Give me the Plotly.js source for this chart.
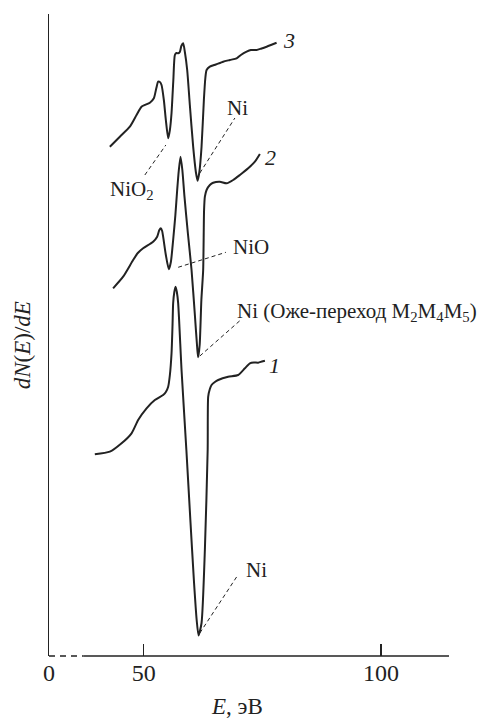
<!DOCTYPE html>
<html>
<head>
<meta charset="utf-8">
<script src="https://cdn.plot.ly/plotly-3.0.1.min.js"></script>
<style>html,body{margin:0;padding:0;background:#fff;}#chart{width:491px;height:719px;}</style>
</head>
<body>
<div id="chart"></div>
<script>
// Energy E (eV) and dN(E)/dE (arbitrary units, curves offset vertically)
const curve1E = [39.66,42.83,45.30,47.41,48.80,50.57,52.32,54.07,54.64,55.13,55.49,55.84,56.05,56.18,56.43,56.69,56.96,57.24,57.95,58.97,59.81,60.55,61.14,61.54,62.17,62.87,63.46,63.57,63.92,64.28,64.98,65.68,67.78,69.89,71.31,72.36,73.21,74.11,74.89,75.53];
const curve1Y = [20.17,20.43,21.27,22.27,23.6,24.77,25.6,26.1,26.4,26.93,28.1,30.27,33.1,35.27,36.4,36.93,36.4,35.27,28.6,20.6,13.6,7.6,3.6,2.05,3.3,10.6,20.6,25.93,26.7,27.1,27.4,27.6,27.93,28.1,28.77,29.27,29.35,29.33,29.45,29.53];

const curve2E = [43.52,45.63,47.74,48.73,49.85,51.96,52.81,53.27,53.59,53.86,54.07,54.64,55.27,55.70,56.18,56.65,57.03,57.38,57.74,58.12,58.57,59.28,60.06,60.76,61.24,61.45,61.77,62.13,62.51,62.70,62.87,63.23,63.92,64.62,66.03,67.45,68.84,70.25,72.00,73.42,74.47];
const curve2Y = [36.77,37.93,39.6,40.3,40.77,41.43,41.93,42.6,42.77,42.5,41.93,40.1,38.67,39.4,41.6,44.1,46.6,48.6,49.93,48.6,45.93,42.3,38.6,34.1,30.9,29.87,31.1,35.6,38.6,44.6,45.93,46.6,47.1,47.33,47.43,47.27,47.6,48.1,48.77,49.43,50.2];

const curve3E = [42.83,44.94,47.05,48.46,49.51,51.27,52.11,52.64,53.02,53.38,53.73,54.22,54.64,55.13,55.49,55.84,56.22,56.54,56.86,57.24,57.59,57.91,58.29,58.65,59.14,59.70,60.40,60.97,61.33,61.71,62.17,62.66,62.97,63.23,63.92,65.19,66.73,68.14,69.56,70.46,71.67,72.57,73.78,74.68,75.89,76.79,77.99];
const curve3Y = [50.93,51.93,52.93,54.10,54.93,55.33,55.77,56.8,57.43,57.4,57.1,55.6,53.6,51.77,52.6,54.3,57.6,60.1,60.3,60.27,60.4,61.0,61.27,60.4,58.6,55.1,50.93,48.4,47.53,48.4,50.93,55.6,57.8,58.6,58.93,59.15,59.43,59.6,59.77,60.1,60.43,60.6,60.6,60.73,60.93,61.1,61.33];

// x tick labels (axis broken between 0 and the data range)
const tickPos = [30, 50, 100];
const tickText = ["0", "50", "100"];

// Curve numbers
const curveLabels = ["<i>1</i>", "<i>2</i>", "<i>3</i>"];
const curveLabelE = [77.64, 76.69, 80.59];
const curveLabelY = [29.1, 49.87, 61.6];

// Peak labels and their dashed leaders
const peakText = ["NiO<sub>2</sub>", "Ni", "NiO", "Ni (Оже-переход M<sub>2</sub>M<sub>4</sub>M<sub>5</sub>)", "Ni"];
const peakE = [47.4, 69.83, 72.53, 69.2, 73.78];
const peakY = [46.6, 54.77, 40.93, 34.43, 8.6];
const peakAnchor = ["center", "center", "center", "left", "center"];
const leaderE0 = [50.21, 61.81, 57.24, 61.81, 61.81];
const leaderY0 = [48.1, 48.3, 38.87, 30.0, 2.3];
const leaderE1 = [54.64, 69.2, 67.3, 70.25, 69.83];
const leaderY1 = [51.1, 53.8, 40.37, 33.53, 8.1];

const ink = "#222222";
const serif = "Liberation Serif";

const lineStyle = {color: ink, width: 2, shape: "spline", smoothing: 0.6};
const traces = [
  {x: curve1E, y: curve1Y, mode: "lines", line: lineStyle, hoverinfo: "skip"},
  {x: curve2E, y: curve2Y, mode: "lines", line: lineStyle, hoverinfo: "skip"},
  {x: curve3E, y: curve3Y, mode: "lines", line: lineStyle, hoverinfo: "skip"}
];

const annotations = [];
curveLabels.forEach((t, i) => annotations.push({
  x: curveLabelE[i], y: curveLabelY[i], xref: "x", yref: "y", text: t,
  showarrow: false, xanchor: "center", yanchor: "middle",
  font: {family: serif, size: 22, color: ink}
}));
peakText.forEach((t, i) => annotations.push({
  x: peakE[i], y: peakY[i], xref: "x", yref: "y", text: t,
  showarrow: false, xanchor: peakAnchor[i], yanchor: "middle",
  font: {family: serif, size: 21, color: ink}
}));
annotations.push({
  x: 0.47, y: -0.078, xref: "paper", yref: "paper", text: "<i>E</i>, эВ",
  showarrow: false, xanchor: "center", yanchor: "middle", borderpad: 0,
  font: {family: serif, size: 23, color: ink}
});
annotations.push({
  x: -0.0675, y: 0.484, xref: "paper", yref: "paper", text: "<i>dN</i>(<i>E</i>)/<i>dE</i>",
  showarrow: false, xanchor: "center", yanchor: "middle", textangle: -90,
  font: {family: serif, size: 23, color: ink}
});

const shapes = [];
leaderE0.forEach((e, i) => shapes.push({
  type: "line", xref: "x", yref: "y", x0: e, y0: leaderY0[i], x1: leaderE1[i], y1: leaderY1[i],
  line: {color: ink, width: 1, dash: "4px,3px"}
}));
// broken x-axis: dashed part then solid part
shapes.push({type: "line", xref: "x", yref: "paper", x0: 30, x1: 37.34, y0: 0, y1: 0,
  line: {color: ink, width: 1.5, dash: "6px,5px"}});
shapes.push({type: "line", xref: "x", yref: "paper", x0: 37.34, x1: 114.35, y0: 0, y1: 0,
  line: {color: ink, width: 1.5}});

const layout = {
  width: 491, height: 719,
  margin: {l: 49, r: 42, t: 14, b: 63},
  paper_bgcolor: "#fff", plot_bgcolor: "#fff",
  showlegend: false,
  font: {family: serif, color: ink},
  xaxis: {
    range: [30, 114.35], tickvals: tickPos, ticktext: tickText,
    ticks: "inside", ticklen: 12, tickwidth: 1.3, tickcolor: ink,
    showline: false, showgrid: false, zeroline: false,
    tickfont: {family: serif, size: 24, color: ink}
  },
  yaxis: {
    range: [0, 64.2], showticklabels: false, ticks: "",
    showline: true, linecolor: ink, linewidth: 1.5,
    showgrid: false, zeroline: false
  },
  annotations: annotations,
  shapes: shapes
};

Plotly.newPlot("chart", traces, layout, {staticPlot: true, displayModeBar: false});
</script>
</body>
</html>
